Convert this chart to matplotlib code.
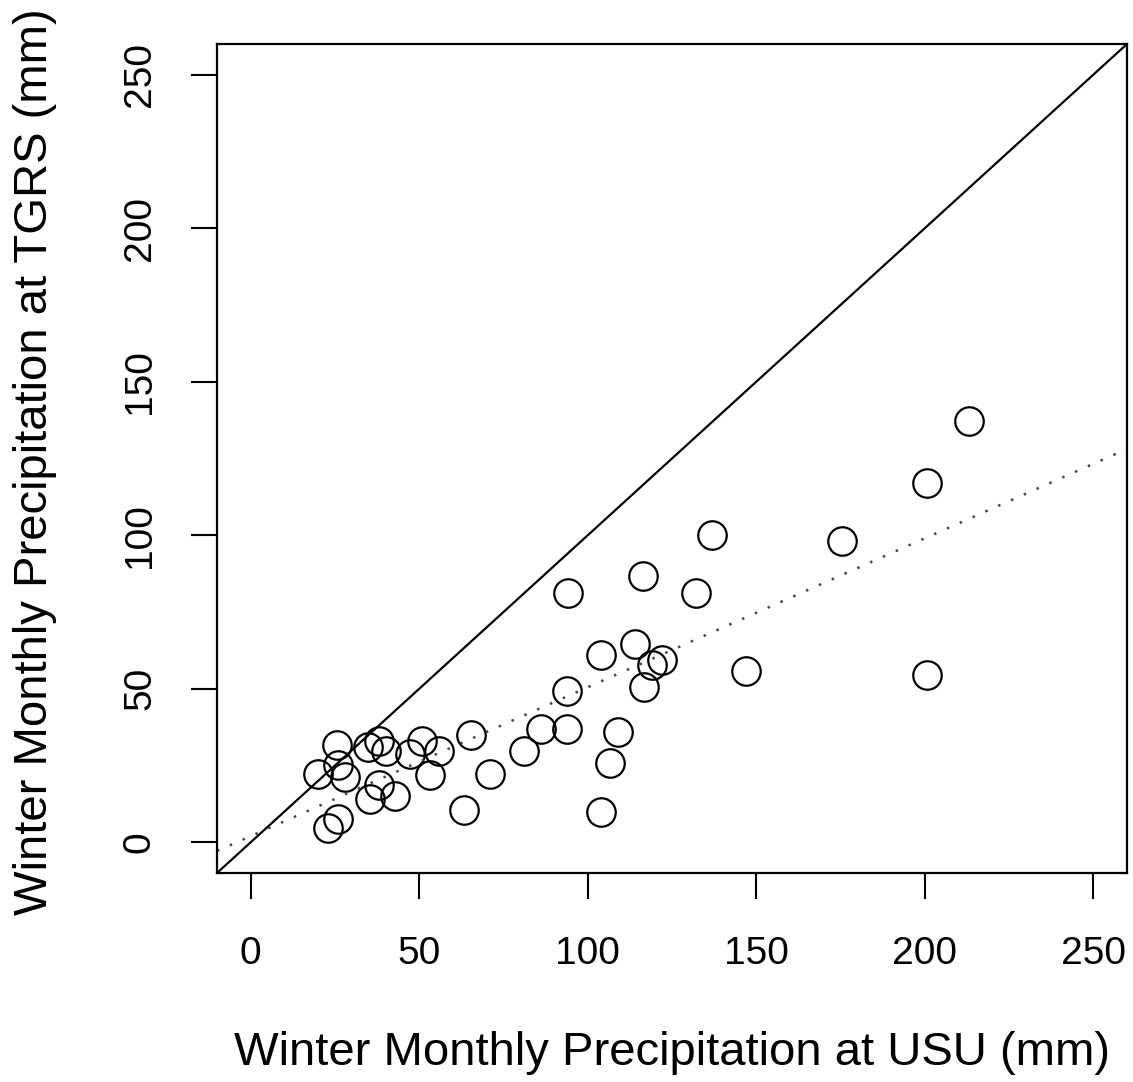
import matplotlib
matplotlib.use("Agg")
import matplotlib.pyplot as plt
import numpy as np

plt.rcParams['font.family'] = ['Liberation Sans', 'DejaVu Sans']

# Winter monthly precipitation (mm)
usu = [213.2, 200.8, 175.3, 137.0, 200.8, 147.1, 132.0, 116.5, 94.0, 114.1,
       103.8, 121.9, 119.2, 116.8, 93.7, 93.7, 109.1, 106.5, 103.8, 86.0,
       81.0, 70.9, 63.2, 65.5, 55.8, 53.1, 50.7, 47.4, 42.7, 40.0,
       38.0, 38.0, 35.3, 34.7, 25.5, 25.8, 27.9, 19.9, 25.8, 22.8]
tgrs = [137.1, 116.9, 98.0, 100.0, 54.4, 55.7, 81.1, 86.6, 81.1, 64.5,
        60.9, 59.3, 57.7, 50.5, 49.2, 36.8, 35.8, 25.7, 9.8, 36.8,
        29.6, 22.1, 10.4, 34.9, 29.6, 21.8, 32.9, 28.7, 15.0, 29.6,
        32.9, 18.6, 14.0, 30.9, 31.6, 25.1, 21.2, 22.1, 7.5, 4.6]

fit_intercept = 2.0
fit_slope = 0.485

ticks = [0, 50, 100, 150, 200, 250]

fig = plt.figure(figsize=(11.33, 10.82), dpi=100)
ax = fig.add_axes([217/1133, 1-873/1082, (1127-217)/1133, (873-44)/1082])

ax.plot(usu, tgrs, linestyle='none', marker='o', markersize=20.5,
        markerfacecolor='none', markeredgecolor='black', markeredgewidth=1.6)
ax.axline((0, 0), slope=1, color='black', linewidth=1.6)
ax.axline((0, fit_intercept), slope=fit_slope, color='#444444',
          linewidth=1.8, linestyle=(0, (1, 4.6)))

ax.set_xlim(-10, 260)
ax.set_ylim(-10, 260)
ax.set_xticks(ticks)
ax.set_yticks(ticks)
ax.set_xticklabels([str(t) for t in ticks])
ax.set_yticklabels([str(t) for t in ticks], rotation=90, va='center')
ax.tick_params(axis='both', length=18.5, width=1.5, labelsize=28,
               color='black')
ax.tick_params(axis='x', pad=27)
ax.tick_params(axis='y', pad=24)
for s in ax.spines.values():
    s.set_linewidth(1.6)

fig.text(0.5 * (217 + 1127) / 1133, 1 - 1053/1082,
         'Winter Monthly Precipitation at USU (mm)', fontsize=34,
         ha='center', va='center')
fig.text(35/1133, 1 - 462/1082,
         'Winter Monthly Precipitation at TGRS (mm)', fontsize=34,
         ha='center', va='center', rotation=90)

fig.savefig('out.png', dpi=100, facecolor='white')
